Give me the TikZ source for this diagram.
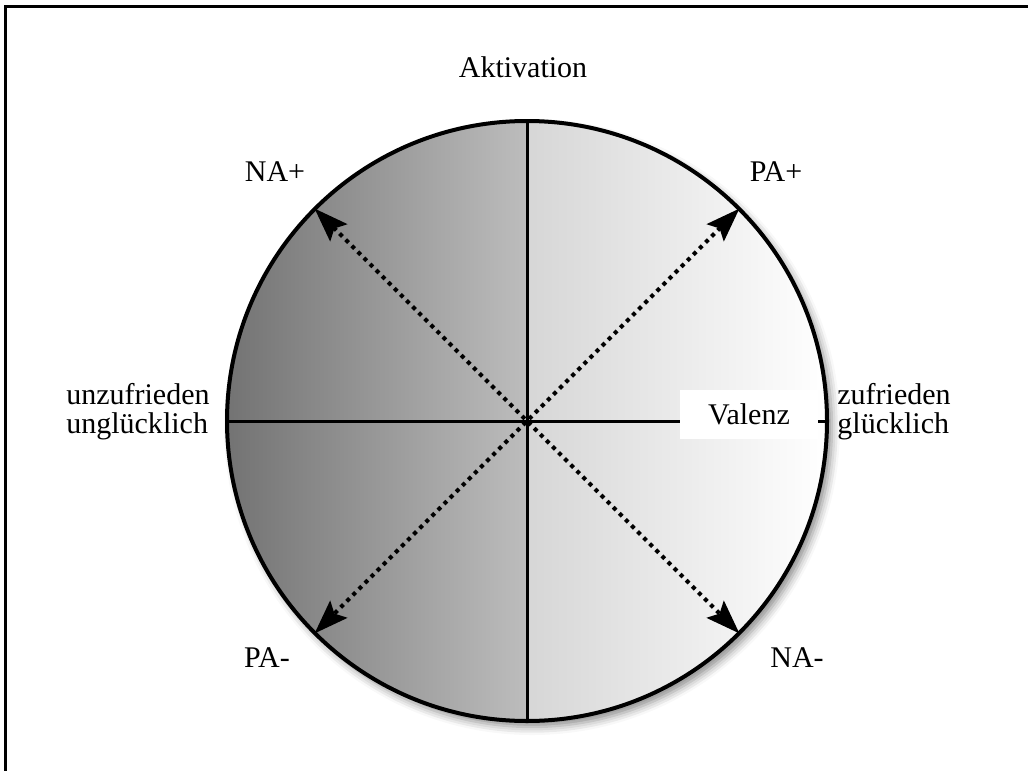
\documentclass[tikz,border=0pt]{standalone}
\usepackage{fontspec}
\setmainfont{Liberation Serif}
\usetikzlibrary{arrows.meta,shadows.blur}
\definecolor{dunkel}{gray}{0.45}
\definecolor{mitte}{gray}{0.74}
\definecolor{hell}{gray}{0.84}
\begin{document}
\begin{tikzpicture}[x=0.5pt,y=-0.5pt,font=\fontsize{15}{14.5}\selectfont,
  achse/.style={line width=1.5pt},
  pfeil/.style={{Stealth[length=17pt,width=12pt,inset=3pt]}-{Stealth[length=17pt,width=12pt,inset=3pt]},line width=2pt,dash pattern=on 2pt off 2.3pt}]
\useasboundingbox (0,0) rectangle (1028,771);
\draw[line width=1.5pt] (5,800) -- (5,6) -- (1040,6);

\node(K)[circle,fill=white,minimum size=300pt,inner sep=0pt,
  blur shadow={shadow xshift=2.5pt,shadow yshift=-3pt,shadow blur radius=4pt,shadow opacity=45}] at (527,421) {};
\begin{scope}
\clip (K.center) circle (300);
\shade[left color=dunkel,right color=mitte] (K.west |- K.north) rectangle (K.south);
\shade[left color=hell,right color=white] (K.north) rectangle (K.east |- K.south);
\end{scope}
\draw[line width=2pt] (K.center) circle (300);

\draw[achse] (K.north) -- (K.south);
\draw[achse] (K.west) -- (K.east);

\draw[pfeil] (K.135) -- (K.-45);
\draw[pfeil] (K.45) -- (K.-135);

\node(V)[fill=white,minimum width=69pt,minimum height=24.5pt] at (749,414) {Valenz};

\node(A) at (523,67) {Aktivation};
\node(NAp) at (275,172) {NA+};
\node(PAp) at (776,172) {PA+};
\node(PAm) at (267,658) {PA-};
\node(NAm) at (797,658) {NA-};
\node(U)[align=left,anchor=east,inner sep=0pt] at (210,412) {unzufrieden\\unglücklich};
\node(Z)[align=left,anchor=west,inner sep=0pt] at (837,412) {zufrieden\\glücklich};

\end{tikzpicture}
\end{document}
